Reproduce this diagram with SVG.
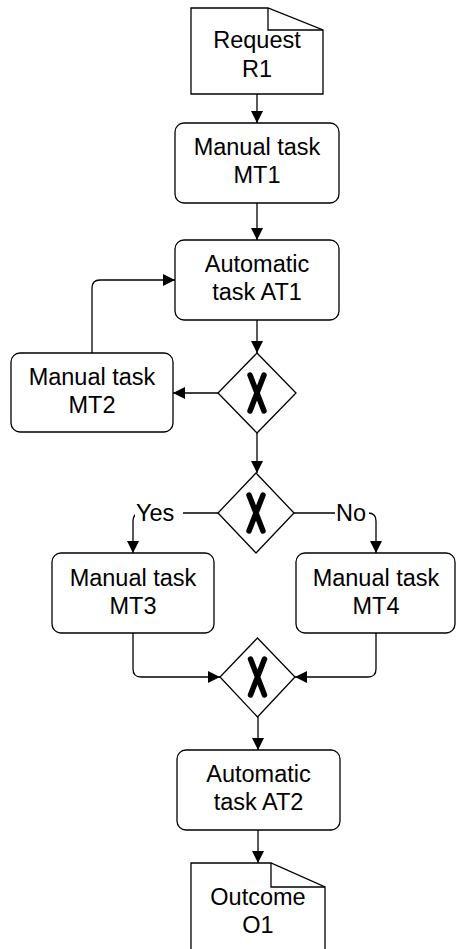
<svg xmlns="http://www.w3.org/2000/svg" width="456" height="949" viewBox="0 0 456 949">
  <style>
    .shape { fill: #ffffff; stroke: #000000; stroke-width: 1.3; }
    .fold { fill: none; stroke: #000000; stroke-width: 1.3; }
    .edge { fill: none; stroke: #000000; stroke-width: 1.3; }
    .xmark { stroke: #000000; stroke-width: 5.5; stroke-linecap: round; fill: none; }
    .label { font-family: "Liberation Sans", Arial, sans-serif; font-size: 23.5px; fill: #000000; text-anchor: middle; }
    .tag { font-family: "Liberation Sans", Arial, sans-serif; font-size: 23.5px; fill: #000000; }
  </style>
  <defs>
    <marker id="arrow" markerUnits="userSpaceOnUse" markerWidth="13" markerHeight="13" refX="12" refY="6.5" orient="auto">
      <path d="M0,0.5 L12,6.5 L0,12.5 Z" fill="#000000"/>
    </marker>
  </defs>
  <rect width="456" height="949" fill="#ffffff"/>

  <!-- connectors -->
  <g id="connectors">
    <path class="edge" d="M257,94 V123" marker-end="url(#arrow)"/>
    <path class="edge" d="M257,203 V240" marker-end="url(#arrow)"/>
    <path class="edge" d="M257,320 V353" marker-end="url(#arrow)"/>
    <path class="edge" d="M218,393 H173" marker-end="url(#arrow)"/>
    <path class="edge" d="M92,353 V288 Q92,280 100,280 H175" marker-end="url(#arrow)"/>
    <path class="edge" d="M257,433 V473" marker-end="url(#arrow)"/>
    <path class="edge" d="M218,513 H141 Q133,513 133,521 V553" marker-end="url(#arrow)"/>
    <path class="edge" d="M294,513 H368 Q376,513 376,521 V553" marker-end="url(#arrow)"/>
    <path class="edge" d="M133,633 V669 Q133,677 141,677 H220" marker-end="url(#arrow)"/>
    <path class="edge" d="M376,633 V669 Q376,677 368,677 H295" marker-end="url(#arrow)"/>
    <path class="edge" d="M258,717 V750" marker-end="url(#arrow)"/>
    <path class="edge" d="M258,830 V863" marker-end="url(#arrow)"/>
    <!-- branch labels -->
    <rect x="135" y="500" width="48" height="26" fill="#ffffff"/>
    <text class="tag" x="136" y="521">Yes</text>
    <rect x="335" y="500" width="34" height="26" fill="#ffffff"/>
    <text class="tag" x="336" y="521">No</text>
  </g>

  <!-- request document -->
  <g id="R1">
    <path class="shape" d="M191,8 H268 L323,30 V94 H191 Z"/>
    <path class="fold" d="M268,8 V30 H323"/>
    <text class="label" x="257" y="48">Request</text>
    <text class="label" x="257" y="77">R1</text>
  </g>

  <g id="MT1">
    <rect class="shape" x="175" y="123" width="164" height="80" rx="9"/>
    <text class="label" x="257" y="155">Manual task</text>
    <text class="label" x="257" y="183">MT1</text>
  </g>

  <g id="AT1">
    <rect class="shape" x="175" y="240" width="164" height="80" rx="9"/>
    <text class="label" x="257" y="272">Automatic</text>
    <text class="label" x="257" y="300">task AT1</text>
  </g>

  <g id="G1">
    <path class="shape" d="M257,353 L296,393 L257,433 L218,393 Z"/>
    <path class="xmark" d="M250,375 L264,411 M264,375 L250,411"/>
  </g>

  <g id="MT2">
    <rect class="shape" x="11" y="353" width="162" height="79" rx="9"/>
    <text class="label" x="92" y="385">Manual task</text>
    <text class="label" x="92" y="413">MT2</text>
  </g>

  <g id="G2">
    <path class="shape" d="M256,473 L294,513 L256,553 L218,513 Z"/>
    <path class="xmark" d="M249,495 L263,531 M263,495 L249,531"/>
  </g>

  <g id="MT3">
    <rect class="shape" x="52" y="553" width="162" height="80" rx="9"/>
    <text class="label" x="133" y="586">Manual task</text>
    <text class="label" x="133" y="614">MT3</text>
  </g>

  <g id="MT4">
    <rect class="shape" x="296" y="553" width="159" height="80" rx="9"/>
    <text class="label" x="376" y="586">Manual task</text>
    <text class="label" x="376" y="614">MT4</text>
  </g>

  <g id="G3">
    <path class="shape" d="M257.5,638 L295,677 L257.5,717 L220,677 Z"/>
    <path class="xmark" d="M250.5,659 L264.5,695 M264.5,659 L250.5,695"/>
  </g>

  <g id="AT2">
    <rect class="shape" x="177" y="750" width="163" height="80" rx="9"/>
    <text class="label" x="258.5" y="782">Automatic</text>
    <text class="label" x="258.5" y="810">task AT2</text>
  </g>

  <!-- outcome document -->
  <g id="O1">
    <path class="shape" d="M191,863 H271 L325,887 V960 H191 Z"/>
    <path class="fold" d="M271,863 V887 H325"/>
    <text class="label" x="258" y="905">Outcome</text>
    <text class="label" x="258" y="933">O1</text>
  </g>
</svg>
